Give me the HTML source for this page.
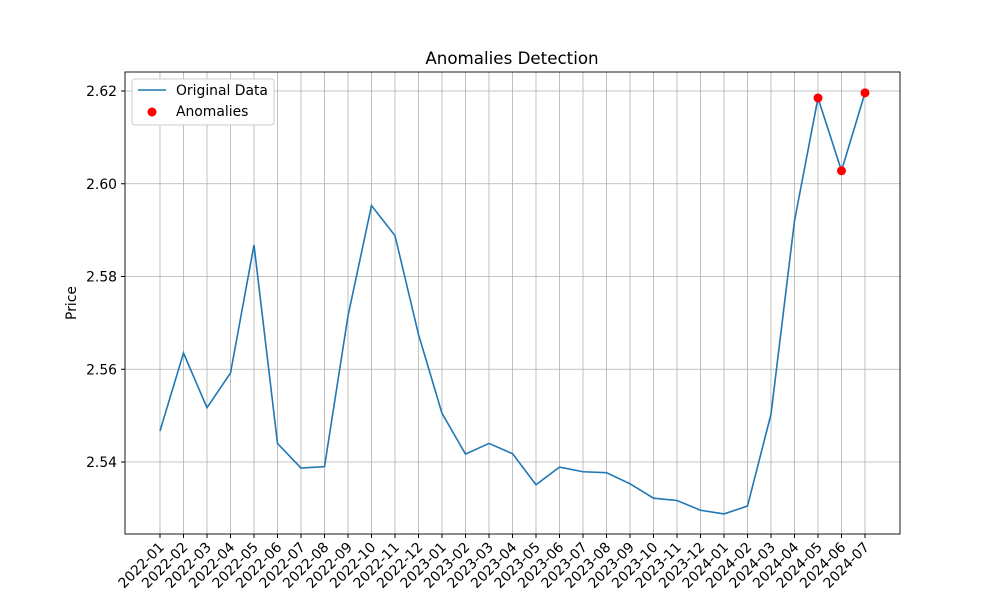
<!DOCTYPE html>
<html><head><meta charset="utf-8"><style>
body{margin:0;background:#fff;font-family:"DejaVu Sans","Liberation Sans",sans-serif;}
svg text{font-family:"DejaVu Sans","Liberation Sans",sans-serif;}
</style></head><body>
<svg id="chart" width="1000" height="600" xmlns="http://www.w3.org/2000/svg">
<rect width="1000" height="600" fill="#fff"/>
<text x="512" y="64" text-anchor="middle" font-size="16.7">Anomalies Detection</text>
<g id="grid"></g>
<g id="xticks"></g>
<g id="yticks"></g>
<polyline id="line" fill="none" stroke="#1f77b4" stroke-width="1.6"/>
<g id="anoms"></g>
<rect x="125" y="72" width="775" height="462" fill="none" stroke="#000" stroke-width="0.9"/>
<text transform="translate(76,303) rotate(-90)" text-anchor="middle" font-size="13.9">Price</text>
<g>
<rect x="132" y="79" width="142" height="46" rx="3" fill="#fff" stroke="#ccc"/>
<line x1="138" y1="90" x2="166" y2="90" stroke="#1f77b4" stroke-width="1.6"/>
<text x="176" y="95" font-size="13.9">Original Data</text>
<circle cx="152" cy="112" r="4.5" fill="red"/>
<text x="176" y="116" font-size="13.9">Anomalies</text>
</g>
</svg>
<script>
const categories=["2022-01","2022-02","2022-03","2022-04","2022-05","2022-06","2022-07","2022-08","2022-09","2022-10","2022-11","2022-12","2023-01","2023-02","2023-03","2023-04","2023-05","2023-06","2023-07","2023-08","2023-09","2023-10","2023-11","2023-12","2024-01","2024-02","2024-03","2024-04","2024-05","2024-06","2024-07"];
const prices=[2.5467,2.5635,2.5517,2.5592,2.5868,2.5440,2.5387,2.5390,2.5715,2.5953,2.5888,2.5675,2.5505,2.5417,2.5440,2.5418,2.5351,2.5389,2.5379,2.5377,2.5353,2.5322,2.5317,2.5296,2.5288,2.5305,2.5503,2.5920,2.6185,2.6028,2.6196];
const anomalyIdx=[28,29,30];
const yTicks=[2.54,2.56,2.58,2.60,2.62];
const NS="http://www.w3.org/2000/svg";
const xS=i=>160+i*(705/(categories.length-1));
const yS=v=>462-(v-2.54)/0.02*92.75;
function mk(t,a,p){const e=document.createElementNS(NS,t);for(const k in a)e.setAttribute(k,a[k]);p.appendChild(e);return e;}
const grid=document.getElementById('grid'),xt=document.getElementById('xticks'),yt=document.getElementById('yticks');
categories.forEach((c,i)=>{const x=xS(i);
 const g=mk('line',{x1:x,x2:x,y1:72,y2:534,stroke:'#b0b0b0','stroke-width':0.8},grid);
 
 
 mk('line',{x1:x,x2:x,y1:534,y2:538,stroke:'#000'},xt);
 const t=mk('text',{x:x+5,y:548,'text-anchor':'end','font-size':13.9,transform:`rotate(-45 ${x+5} 548)`},xt);
 t.textContent=c;
 
 
});
yTicks.forEach(v=>{const y=yS(v);
 const g=mk('line',{x1:125,x2:900,y1:y,y2:y,stroke:'#b0b0b0','stroke-width':0.8},grid);
 
 
 mk('line',{x1:121,x2:125,y1:y,y2:y,stroke:'#000'},yt);
 const t=mk('text',{x:117,y:y+5,'text-anchor':'end','font-size':13.9},yt);
 t.textContent=v.toFixed(2);
 
 
});
document.getElementById('line').setAttribute('points',prices.map((v,i)=>xS(i)+','+yS(v)).join(' '));
const an=document.getElementById('anoms');
anomalyIdx.forEach(i=>{const c=mk('circle',{cx:xS(i),cy:yS(prices[i]),r:4.5,fill:'red'},an);
 
 
});
</script>
</body></html>
